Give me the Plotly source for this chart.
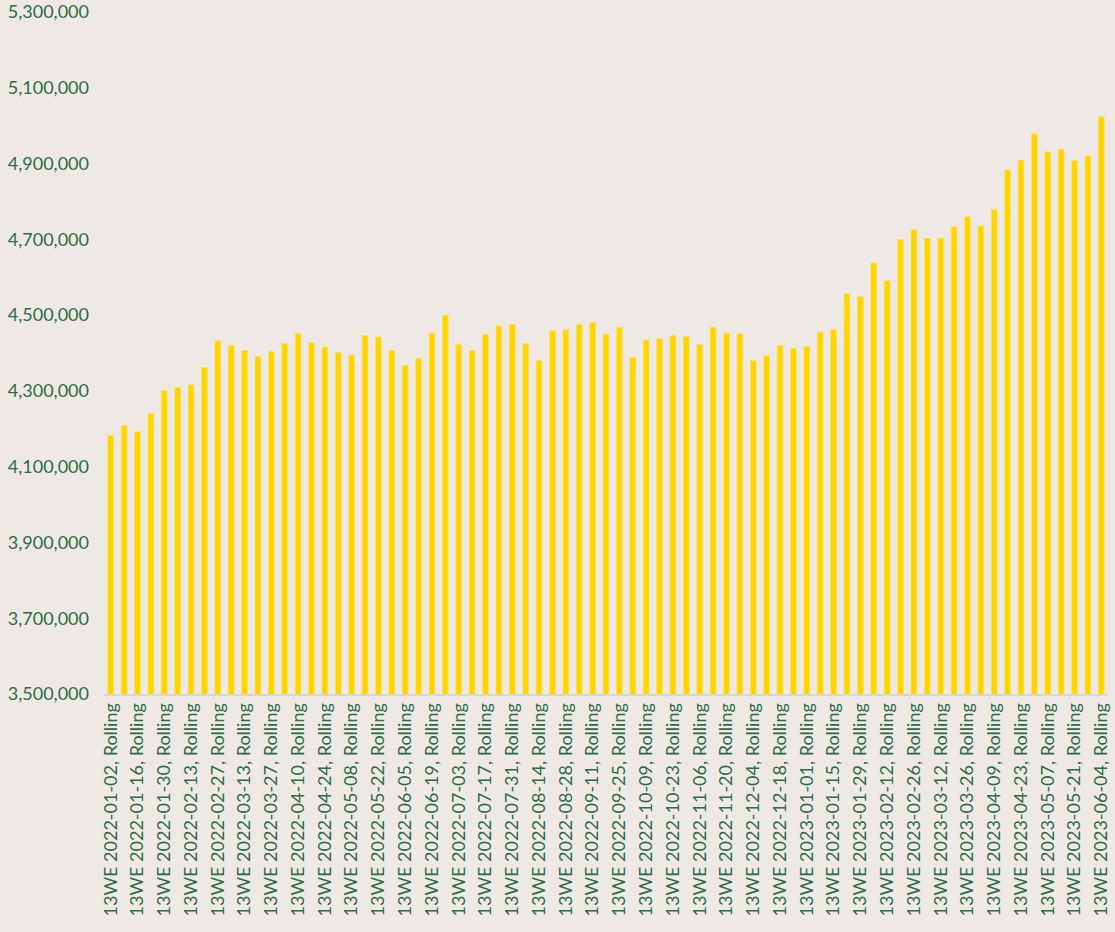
import plotly.graph_objects as go

week_ends = [
    "2022-01-02", "2022-01-09", "2022-01-16", "2022-01-23", "2022-01-30", "2022-02-06",
    "2022-02-13", "2022-02-20", "2022-02-27", "2022-03-06", "2022-03-13", "2022-03-20",
    "2022-03-27", "2022-04-03", "2022-04-10", "2022-04-17", "2022-04-24", "2022-05-01",
    "2022-05-08", "2022-05-15", "2022-05-22", "2022-05-29", "2022-06-05", "2022-06-12",
    "2022-06-19", "2022-06-26", "2022-07-03", "2022-07-10", "2022-07-17", "2022-07-24",
    "2022-07-31", "2022-08-07", "2022-08-14", "2022-08-21", "2022-08-28", "2022-09-04",
    "2022-09-11", "2022-09-18", "2022-09-25", "2022-10-02", "2022-10-09", "2022-10-16",
    "2022-10-23", "2022-10-30", "2022-11-06", "2022-11-13", "2022-11-20", "2022-11-27",
    "2022-12-04", "2022-12-11", "2022-12-18", "2022-12-25", "2023-01-01", "2023-01-08",
    "2023-01-15", "2023-01-22", "2023-01-29", "2023-02-05", "2023-02-12", "2023-02-19",
    "2023-02-26", "2023-03-05", "2023-03-12", "2023-03-19", "2023-03-26", "2023-04-02",
    "2023-04-09", "2023-04-16", "2023-04-23", "2023-04-30", "2023-05-07", "2023-05-14",
    "2023-05-21", "2023-05-28", "2023-06-04",
]
categories = ["13WE " + d + ", Rolling" for d in week_ends]

values = [
    4182600, 4208900, 4192300, 4239800, 4300400, 4309000, 4316200, 4361800, 4432100, 4420500,
    4406600, 4390800, 4403900, 4425800, 4451400, 4426900, 4415300, 4402100, 4394200, 4446100,
    4442500, 4406600, 4367000, 4385500, 4452200, 4499600, 4423200, 4406600, 4448700, 4471700,
    4475100, 4425000, 4380200, 4458500, 4461100, 4475100, 4480400, 4448700, 4468000, 4388100,
    4433700, 4438200, 4446100, 4443500, 4421600, 4468000, 4452200, 4450600, 4380200, 4392600,
    4419700, 4411800, 4417100, 4454800, 4461900, 4556800, 4548900, 4637700, 4591000, 4699100,
    4725500, 4702600, 4702600, 4733400, 4759700, 4735200, 4778200, 4882800, 4909100, 4978500,
    4931000, 4937100, 4907300, 4920500, 5023300,
]

y_ticks = [3500000, 3700000, 3900000, 4100000, 4300000, 4500000, 4700000, 4900000, 5100000, 5300000]

BG = "#EEE9E5"
TXT = "#2F6B47"
BAR = "#FFD500"

fig = go.Figure()
fig.add_trace(go.Bar(
    x=categories,
    y=values,
    marker=dict(color=BAR, line=dict(color="rgba(255,225,90,0.8)", width=1)),
    hoverinfo="x+y",
))

fig.update_layout(
    width=1115,
    height=932,
    paper_bgcolor=BG,
    plot_bgcolor=BG,
    margin=dict(l=104, r=7, t=12, b=238),
    bargap=0.57,
    showlegend=False,
    font=dict(family="Lato, sans-serif", color=TXT),
)
fig.update_xaxes(
    type="category",
    tickmode="array",
    tickvals=categories[::2],
    ticktext=categories[::2],
    tickangle=-90,
    tickfont=dict(size=18, color=TXT, family="Lato, sans-serif"),
    showgrid=False,
    showline=True,
    linecolor="#D9D6D3",
    linewidth=2,
    ticks="",
    ticklabeloverflow="allow",
    automargin=False,
    range=[-0.5, len(categories) - 0.5],
)
fig.update_yaxes(
    range=[3500000, 5300000],
    tickmode="array",
    tickvals=y_ticks,
    tickformat=",d",
    tickfont=dict(size=18, color=TXT, family="Lato, sans-serif"),
    showgrid=False,
    zeroline=False,
    showline=False,
    ticks="",
    ticklabeloverflow="allow",
    ticklabelstandoff=14,
    automargin=False,
)

fig.write_html(
    "out.html",
    config={"displayModeBar": False},
    post_script="document.body.style.margin='0';document.body.style.overflow='hidden';",
)
